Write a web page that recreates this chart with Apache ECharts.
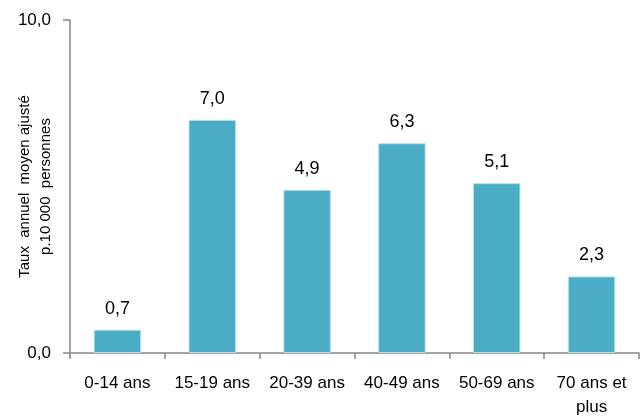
<!DOCTYPE html>
<html><head><meta charset="utf-8">
<script src="https://cdn.jsdelivr.net/npm/echarts@6/dist/echarts.min.js"></script>
<style>html,body{margin:0;padding:0;background:#fff}#c{width:644px;height:419px}</style>
</head><body><div id="c"></div>
<script>
const categories = ["0-14 ans","15-19 ans","20-39 ans","40-49 ans","50-69 ans","70 ans et\nplus"];
const values = [0.7, 7.0, 4.9, 6.3, 5.1, 2.3];
const yTicks = [0, 10];
const yTitle = "Taux  annuel  moyen ajusté\np.10 000  personnes";
const FONT = "'Liberation Sans Narrow','Arial Narrow','Liberation Sans',sans-serif";
const fmt = v => v.toFixed(1).replace('.', ',');
const chart = echarts.init(document.getElementById('c'), null, {renderer:'canvas'});
chart.setOption({
  animation:false,
  grid:{left:70,right:5,top:20,bottom:66,containLabel:false,outerBoundsMode:'none'},
  xAxis:{type:'category',data:categories,
    axisLine:{lineStyle:{color:'#888',width:1.5}},
    axisTick:{show:true,length:6,lineStyle:{color:'#888',width:1.5}},
    axisLabel:{color:'#000',fontFamily:FONT,fontSize:17,margin:18,lineHeight:24,interval:0}},
  yAxis:{type:'value',min:yTicks[0],max:yTicks[1],interval:10,
    name:yTitle,nameLocation:'middle',nameGap:14,nameRotate:90,nameMoveOverlap:false,
    nameTextStyle:{color:'#000',fontFamily:FONT,fontSize:15,lineHeight:21},
    axisLine:{show:true,lineStyle:{color:'#888',width:1.5}},
    axisTick:{show:true,length:7,lineStyle:{color:'#888',width:1.5}},
    splitLine:{show:false},
    axisLabel:{color:'#000',fontFamily:FONT,fontSize:17,margin:19,formatter:v=>fmt(v)}},
  series:[{type:'bar',data:values,barWidth:'50%',
    itemStyle:{color:'#4BACC6',borderColor:'#B7DDE8',borderWidth:1},
    label:{show:true,position:'top',distance:12,color:'#000',fontFamily:FONT,fontSize:18,formatter:p=>fmt(p.value)}}]
});
</script></body></html>
